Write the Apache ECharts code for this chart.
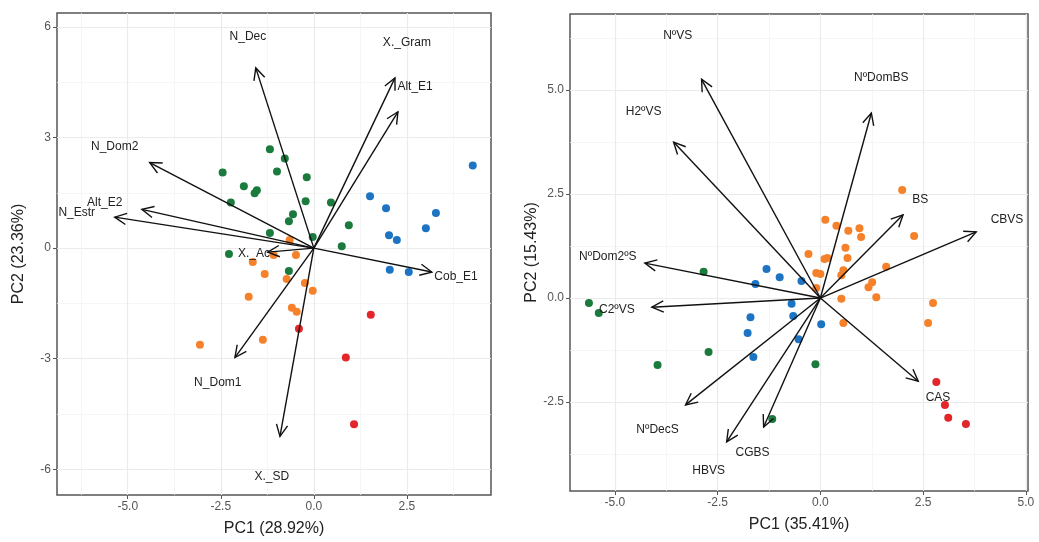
<!DOCTYPE html>
<html>
<head>
<meta charset="utf-8">
<script src="https://cdn.jsdelivr.net/npm/echarts@6/dist/echarts.min.js"></script>
<style>
html, body { margin: 0; padding: 0; background: #fff; }
#chart { width: 1039px; height: 542px; }
</style>
</head>
<body>
<div id="chart"></div>
<script>
// ---- left biplot (PC1 28.92% / PC2 23.36%) ----
const leftGreenX = [-1.18, -0.78, -2.45, -0.99, -0.19, -1.88, -1.59, -1.53, -2.23, -0.22, 0.46, -0.56, -0.67, 0.94, -1.18, -0.03, 0.75, -2.28, -0.67];
const leftGreenY = [2.68, 2.43, 2.05, 2.08, 1.92, 1.68, 1.49, 1.57, 1.24, 1.27, 1.24, 0.92, 0.73, 0.62, 0.41, 0.30, 0.05, -0.16, -0.62];
const leftOrangeX = [-0.65, -0.48, -1.08, -1.64, -1.32, -0.73, -0.24, -0.03, -1.75, -0.59, -0.46, -1.37, -3.06];
const leftOrangeY = [0.22, -0.19, -0.19, -0.38, -0.70, -0.84, -0.95, -1.16, -1.32, -1.62, -1.73, -2.49, -2.62];
const leftRedX = [1.53, -0.40, 0.86, 1.08];
const leftRedY = [-1.81, -2.19, -2.97, -4.78];
const leftBlueX = [4.27, 1.51, 1.94, 3.28, 3.01, 2.02, 2.23, 2.04, 2.55];
const leftBlueY = [2.24, 1.41, 1.08, 0.95, 0.54, 0.35, 0.22, -0.59, -0.65];

const leftVars = ['N_Dec', 'X._Gram', 'Alt_E1', 'N_Dom2', 'Alt_E2', 'N_Estr', 'X._Ac', 'Cob_E1', 'N_Dom1', 'X._SD'];
const leftTipX = [-1.56, 2.18, 2.26, -4.41, -4.62, -5.35, -1.24, 3.17, -2.12, -0.91];
const leftTipY = [4.89, 4.62, 3.70, 2.32, 1.05, 0.84, -0.11, -0.65, -2.97, -5.11];
const leftLabX = [-1.77, 2.50, 2.72, -5.35, -5.62, -6.37, -1.61, 3.82, -2.58, -1.13];
const leftLabY = [5.73, 5.57, 4.38, 2.76, 1.24, 0.97, -0.14, -0.78, -3.65, -6.19];

const leftXTicks = [-5, -2.5, 0, 2.5];
const leftYTicks = [-6, -3, 0, 3, 6];
const leftXMinor = [-6.25, -3.75, -1.25, 1.25, 3.75];
const leftYMinor = [-4.5, -1.5, 1.5, 4.5];

// ---- right biplot (PC1 35.41% / PC2 15.43%) ----
const rightGreenX = [-2.84, -5.63, -5.39, -2.72, -3.96, -0.12, -1.17];
const rightGreenY = [0.63, -0.12, -0.36, -1.30, -1.61, -1.59, -2.91];
const rightBlueX = [-1.31, -0.99, -0.46, -1.58, -0.70, -1.70, -0.66, -1.77, 0.02, -0.53, -1.63];
const rightBlueY = [0.70, 0.50, 0.41, 0.34, -0.14, -0.46, -0.43, -0.84, -0.63, -0.99, -1.42];
const rightOrangeX = [1.99, 2.28, 0.12, 0.39, 0.68, 0.95, 0.99, 0.61, -0.29, 0.66, 0.10, 0.17, -0.10, 0.00, 0.56, 0.51, 1.60, 1.26, 1.17, 1.36, -0.10, 0.51, 0.56, 2.74, 2.62];
const rightOrangeY = [2.60, 1.49, 1.88, 1.74, 1.62, 1.68, 1.47, 1.21, 1.06, 0.96, 0.94, 0.96, 0.60, 0.58, 0.67, 0.55, 0.75, 0.38, 0.26, 0.02, 0.24, -0.02, -0.60, -0.12, -0.60];
const rightRedX = [2.82, 3.03, 3.11, 3.54];
const rightRedY = [-2.02, -2.57, -2.88, -3.03];

const rightVars = ['NºVS', 'H2ºVS', 'NºDomBS', 'BS', 'CBVS', 'NºDom2ºS', 'C2ºVS', 'NºDecS', 'HBVS', 'CGBS', 'CAS'];
const rightTipX = [-2.89, -3.57, 1.24, 2.01, 3.79, -4.27, -4.10, -3.28, -2.28, -1.38, 2.38];
const rightTipY = [5.26, 3.75, 4.45, 2.00, 1.59, 0.84, -0.22, -2.57, -3.46, -3.10, -2.00];
const rightLabX = [-3.47, -4.30, 1.48, 2.43, 4.54, -5.17, -4.95, -3.96, -2.72, -1.65, 2.86];
const rightLabY = [6.30, 4.47, 5.29, 2.36, 1.88, 0.99, -0.29, -3.17, -4.16, -3.73, -2.40];

const rightXTicks = [-5, -2.5, 0, 2.5, 5];
const rightYTicks = [-2.5, 0, 2.5, 5];
const rightXMinor = [-3.75, -1.25, 1.25, 3.75];
const rightYMinor = [-3.75, -1.25, 1.25, 3.75, 6.25];

const colGreen = '#1b7a3d';
const colOrange = '#f5822a';
const colRed = '#e3262a';
const colBlue = '#1d74c2';
const font = "'Liberation Sans', Arial, sans-serif";

const chart = echarts.init(document.getElementById('chart'));

function zip(xs, ys) {
  return xs.map((x, i) => [x, ys[i]]);
}

function visAxis(grid, min, max, ticks, dec, name, gap) {
  return {
    type: 'value', gridIndex: grid, min: min, max: max,
    name: name, nameLocation: 'middle', nameGap: gap,
    nameTextStyle: { fontFamily: font, fontSize: 16, color: '#222' },
    axisLine: { show: false, onZero: false },
    axisTick: { show: true, customValues: ticks, length: 4, lineStyle: { color: '#555' } },
    axisLabel: {
      customValues: ticks, margin: 6, color: '#555', fontFamily: font, fontSize: 12,
      formatter: v => v.toFixed(dec)
    },
    splitLine: { show: true, lineStyle: { color: '#ebebeb', width: 1.2 } }
  };
}

function minorAxis(grid, min, max, ticks) {
  return {
    type: 'value', gridIndex: grid, min: min, max: max,
    axisLine: { show: false, onZero: false },
    axisTick: { show: false, customValues: ticks },
    axisLabel: { show: false },
    splitLine: { show: true, lineStyle: { color: '#f4f4f4', width: 0.8 } }
  };
}

function dots(xi, yi, xs, ys, color) {
  return {
    type: 'scatter', xAxisIndex: xi, yAxisIndex: yi,
    data: zip(xs, ys), symbolSize: 8, itemStyle: { color: color, opacity: 1 },
    silent: true, z: 2
  };
}

function arrows(xi, yi, tx, ty) {
  return {
    type: 'custom', xAxisIndex: xi, yAxisIndex: yi, data: zip(tx, ty), z: 3, silent: true,
    renderItem: function (params, api) {
      const o = api.coord([0, 0]);
      const t = api.coord([api.value(0), api.value(1)]);
      const a = Math.atan2(t[1] - o[1], t[0] - o[0]);
      const L = 13, w = Math.PI / 7;
      const h1 = [t[0] - L * Math.cos(a - w), t[1] - L * Math.sin(a - w)];
      const h2 = [t[0] - L * Math.cos(a + w), t[1] - L * Math.sin(a + w)];
      return {
        type: 'group', children: [
          { type: 'line', shape: { x1: o[0], y1: o[1], x2: t[0], y2: t[1] }, style: { stroke: '#111', lineWidth: 1.4 } },
          { type: 'polyline', shape: { points: [h1, t, h2] }, style: { stroke: '#111', lineWidth: 1.4, fill: null } }
        ]
      };
    }
  };
}

function labels(xi, yi, names, lx, ly) {
  return {
    type: 'custom', xAxisIndex: xi, yAxisIndex: yi, data: zip(lx, ly), z: 4, silent: true,
    renderItem: function (params, api) {
      const p = api.coord([api.value(0), api.value(1)]);
      return {
        type: 'text', x: p[0], y: p[1],
        style: { text: names[params.dataIndex], fill: '#222', font: '12px ' + font, align: 'center', verticalAlign: 'middle' }
      };
    }
  };
}

chart.setOption({
  animation: false,
  backgroundColor: '#fff',
  grid: [
    { left: 57, top: 13, width: 434, height: 484, show: true, borderColor: '#555', borderWidth: 1.5, backgroundColor: '#fff' },
    { left: 570, top: 14, width: 458, height: 477, show: true, borderColor: '#555', borderWidth: 1.5, backgroundColor: '#fff' }
  ],
  xAxis: [
    visAxis(0, -6.9, 4.76, leftXTicks, 1, 'PC1 (28.92%)', 26),
    minorAxis(0, -6.9, 4.76, leftXMinor),
    visAxis(1, -6.09, 5.05, rightXTicks, 1, 'PC1 (35.41%)', 26),
    minorAxis(1, -6.09, 5.05, rightXMinor)
  ],
  yAxis: [
    visAxis(0, -6.7, 6.38, leftYTicks, 0, 'PC2 (23.36%)', 30),
    minorAxis(0, -6.7, 6.38, leftYMinor),
    visAxis(1, -4.64, 6.83, rightYTicks, 1, 'PC2 (15.43%)', 26),
    minorAxis(1, -4.64, 6.83, rightYMinor)
  ],
  series: [
    dots(0, 0, leftGreenX, leftGreenY, colGreen),
    dots(0, 0, leftOrangeX, leftOrangeY, colOrange),
    dots(0, 0, leftRedX, leftRedY, colRed),
    dots(0, 0, leftBlueX, leftBlueY, colBlue),
    arrows(0, 0, leftTipX, leftTipY),
    labels(0, 0, leftVars, leftLabX, leftLabY),
    dots(2, 2, rightGreenX, rightGreenY, colGreen),
    dots(2, 2, rightBlueX, rightBlueY, colBlue),
    dots(2, 2, rightOrangeX, rightOrangeY, colOrange),
    dots(2, 2, rightRedX, rightRedY, colRed),
    arrows(2, 2, rightTipX, rightTipY),
    labels(2, 2, rightVars, rightLabX, rightLabY)
  ]
});
</script>
</body>
</html>
